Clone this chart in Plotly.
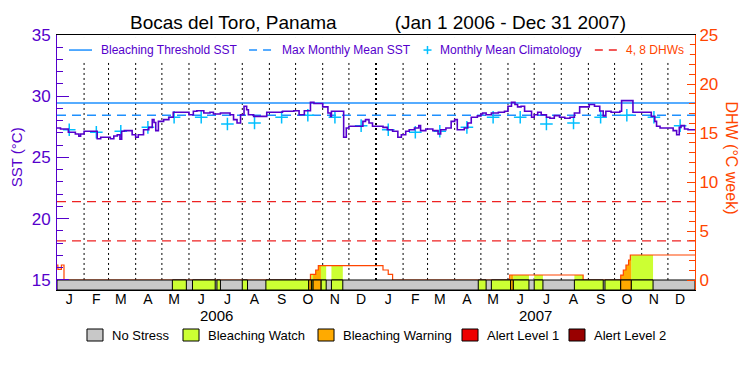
import plotly.graph_objects as go
import pandas as pd

# ---------------- data ----------------
title_text = "Bocas del Toro, Panama" + "\u00a0" * 11 + "(Jan 1 2006 - Dec 31 2007)"
period_start = "2006-01-01"
period_end = "2008-01-01"

sst_dates = [
    "2006-01-01", "2006-01-05", "2006-01-14", "2006-01-22", "2006-01-26", "2006-01-28",
    "2006-02-01", "2006-02-16", "2006-02-20", "2006-03-03", "2006-03-07", "2006-03-11",
    "2006-03-14", "2006-03-16", "2006-03-19", "2006-03-28", "2006-04-01", "2006-04-04",
    "2006-04-10", "2006-04-16", "2006-04-20", "2006-04-22", "2006-04-24", "2006-04-27",
    "2006-05-03", "2006-05-09", "2006-05-14", "2006-06-01", "2006-06-06", "2006-06-10",
    "2006-06-18", "2006-06-25", "2006-06-29", "2006-07-07", "2006-07-18", "2006-07-22",
    "2006-07-26", "2006-07-30", "2006-08-03", "2006-08-06", "2006-08-08", "2006-08-14",
    "2006-08-29", "2006-09-16", "2006-09-29", "2006-10-05", "2006-10-11", "2006-10-18",
    "2006-10-22", "2006-11-01", "2006-11-07", "2006-11-10", "2006-11-11", "2006-11-25",
    "2006-11-28", "2006-12-01", "2006-12-17", "2006-12-20", "2006-12-24", "2006-12-28",
    "2007-01-09", "2007-01-14", "2007-01-20", "2007-01-26", "2007-01-30", "2007-02-04",
    "2007-02-08", "2007-02-14", "2007-02-19", "2007-02-21", "2007-02-27", "2007-03-07",
    "2007-03-13", "2007-03-16", "2007-03-22", "2007-03-28", "2007-04-01", "2007-04-04",
    "2007-04-12", "2007-04-16", "2007-04-20", "2007-04-27", "2007-05-01", "2007-05-03",
    "2007-05-07", "2007-05-13", "2007-05-21", "2007-05-28", "2007-06-01", "2007-06-05",
    "2007-06-09", "2007-06-12", "2007-06-16", "2007-06-20", "2007-06-28", "2007-07-01",
    "2007-07-05", "2007-07-09", "2007-07-15", "2007-07-19", "2007-07-24", "2007-07-30",
    "2007-08-05", "2007-08-11", "2007-08-16", "2007-08-22", "2007-09-02", "2007-09-08",
    "2007-09-14", "2007-09-18", "2007-09-21", "2007-09-27", "2007-10-07", "2007-10-09",
    "2007-10-22", "2007-11-12", "2007-11-16", "2007-11-18", "2007-11-22", "2007-12-07",
    "2007-12-11", "2007-12-14", "2007-12-16", "2007-12-20", "2007-12-24", "2008-01-01",
]
sst_values = [
    27.41, 27.33, 27.06, 26.92, 26.73, 26.92,
    27.14, 26.53, 26.65, 26.53, 26.75, 26.86,
    26.50, 27.14, 27.19, 26.86, 26.65, 26.86,
    27.27, 27.46, 28.09, 27.85, 27.19, 27.95,
    28.09, 28.28, 28.69, 28.49, 28.77, 28.82,
    28.63, 28.69, 28.55, 28.63, 28.49, 28.09,
    27.82, 28.49, 29.18, 28.90, 28.49, 28.36,
    28.69, 28.77, 28.82, 28.49, 28.82, 29.50,
    29.41, 29.13, 28.63, 28.36, 28.77, 26.65,
    27.41, 27.55, 27.95, 28.09, 27.82, 27.55,
    27.46, 27.27, 27.14, 26.65, 26.86, 27.14,
    27.27, 27.41, 27.60, 27.19, 27.33, 27.19,
    26.92, 27.27, 27.41, 27.95, 28.09, 27.27,
    27.41, 27.82, 28.28, 28.40, 28.55, 28.63,
    28.49, 28.63, 28.69, 28.77, 29.18, 29.50,
    29.32, 29.13, 29.18, 28.77, 28.28, 28.49,
    28.69, 28.49, 28.28, 28.20, 28.42, 28.28,
    28.20, 28.28, 28.63, 29.13, 29.32, 29.18,
    28.80, 28.40, 28.77, 28.69, 28.77, 29.64,
    28.69, 28.36, 27.95, 27.55, 27.41, 27.19,
    26.86, 27.46, 27.60, 27.33, 27.27, 27.27,
]

clim_day = 15
clim_values = [27.27, 27.06, 27.14, 27.46, 28.28, 28.28, 27.73, 27.82, 28.28, 28.45, 28.28, 27.60]
years = [2006, 2007]
mmm_sst = 28.45
threshold_sst = 29.45
dhw_ref_levels = [4, 8]

dhw_dates = ["2006-01-01", "2006-01-02", "2006-01-06", "2006-01-09", "2006-10-18", "2006-10-24",
             "2006-10-27", "2007-01-09", "2007-01-15", "2007-01-20", "2007-06-03", "2007-08-26",
             "2007-10-08", "2007-10-11", "2007-10-14", "2007-10-17", "2007-10-19", "2008-01-01"]
dhw_values = [1.53, 1.09, 1.53, 0.0, 0.58, 1.02,
              1.46, 1.02, 0.58, 0.0, 0.51, 0.0,
              0.50, 1.02, 1.53, 2.04, 2.55, 2.55]

# stress level: 1 = Bleaching Watch, 2 = Bleaching Warning (rest = No Stress)
stress_start = ["2006-05-13", "2006-06-05", "2006-07-03", "2006-08-01", "2006-08-28", "2006-10-16",
                "2006-10-19", "2006-10-21", "2006-10-30", "2006-11-11",
                "2007-04-28", "2007-05-13", "2007-06-04", "2007-06-07", "2007-07-01", "2007-08-16",
                "2007-09-20", "2007-10-08", "2007-10-20"]
stress_end = ["2006-05-29", "2006-07-01", "2006-07-07", "2006-08-07", "2006-10-16", "2006-10-19",
              "2006-10-21", "2006-10-30", "2006-11-05", "2006-11-24",
              "2007-05-07", "2007-06-04", "2007-06-07", "2007-06-25", "2007-07-11", "2007-09-18",
              "2007-10-08", "2007-10-20", "2007-11-14"]
stress_level = [1, 1, 1, 1, 1, 2,
                1, 2, 1, 1,
                1, 1, 2, 1, 1, 1,
                1, 2, 1]

stress_names = ["No Stress", "Bleaching Watch", "Bleaching Warning", "Alert Level 1", "Alert Level 2"]
stress_colors = ["#c8c8c8", "#ccff33", "#ffaa00", "#ee0000", "#990000"]
month_letters = ["J", "F", "M", "A", "M", "J", "J", "A", "S", "O", "N", "D"]
top_legend_labels = ["Bleaching Threshold SST", "Max Monthly Mean SST", "Monthly Mean Climatology", "4, 8 DHWs"]

# ---------------- styles ----------------
PURPLE = "#5500cc"
ORANGE = "#ff4500"
BLUE = "#1e90ff"
CYAN = "#00bfff"
RED = "#ee2222"
FONT = "Liberation Sans, Arial, sans-serif"
SST_RANGE = [14.18, 35]
DHW_RANGE = [-1.02, 25]
BAR_BOTTOM = DHW_RANGE[0]

fig = go.Figure()

# month grid (dotted) and year boundary
month_starts = pd.date_range(period_start, period_end, freq="MS")[1:-1]
year_starts = [pd.Timestamp(f"{y}-01-01") for y in years[1:]]
gx, gy = [], []
for m in month_starts:
    if m in year_starts:
        continue
    gx += [m, m, None]
    gy += [15, 35, None]
fig.add_trace(go.Scatter(x=gx, y=gy, mode="lines", showlegend=False, hoverinfo="skip",
                         line=dict(color="black", width=1, dash="2px,3px")))
yx, yy = [], []
for m in year_starts:
    yx += [m, m, None]
    yy += [15, 35, None]
fig.add_trace(go.Scatter(x=yx, y=yy, mode="lines", showlegend=False, hoverinfo="skip",
                         line=dict(color="black", width=2, dash="2px,3px")))

# threshold / MMM / climatology
fig.add_trace(go.Scatter(x=[period_start, period_end], y=[threshold_sst] * 2, mode="lines",
                         showlegend=False, line=dict(color=BLUE, width=1.5)))
fig.add_trace(go.Scatter(x=[period_start, period_end], y=[mmm_sst] * 2, mode="lines",
                         showlegend=False, line=dict(color=BLUE, width=1.5, dash="9px,6px")))
clim_x, clim_y = [], []
for y in years:
    for i, v in enumerate(clim_values):
        clim_x.append(pd.Timestamp(year=y, month=i + 1, day=clim_day))
        clim_y.append(v)
fig.add_trace(go.Scatter(x=clim_x, y=clim_y, mode="markers", showlegend=False,
                         marker=dict(symbol="cross-thin", size=9, color=CYAN,
                                     line=dict(width=1.5, color=CYAN))))

# SST
fig.add_trace(go.Scatter(x=sst_dates, y=sst_values, mode="lines", showlegend=False,
                         line=dict(color=PURPLE, width=1.6, shape="hv")))

# DHW reference lines
rx, ry = [], []
for lv in dhw_ref_levels:
    rx += [period_start, period_end, None]
    ry += [lv, lv, None]
fig.add_trace(go.Scatter(x=rx, y=ry, mode="lines", yaxis="y2", showlegend=False,
                         line=dict(color=RED, width=1.3, dash="9px,6px")))

# stress-coloured area under DHW
dhw_ts = pd.to_datetime(dhw_dates)


def dhw_at(t):
    v = 0.0
    for d, val in zip(dhw_ts, dhw_values):
        if d <= t:
            v = val
        else:
            break
    return v


def fill_poly(level):
    xs, ys = [], []
    for s, e, lv in zip(stress_start, stress_end, stress_level):
        if lv != level:
            continue
        s, e = pd.Timestamp(s), pd.Timestamp(e)
        v = dhw_at(s)
        px, py = [s, s], [0, v]
        for d, val in zip(dhw_ts, dhw_values):
            if s < d < e:
                px += [d, d]
                py += [v, val]
                v = val
        px += [e, e]
        py += [v, 0]
        if max(py) > 0:
            xs += px + [None]
            ys += py + [None]
    return xs, ys


for lvl in (1, 2):
    fx, fy = fill_poly(lvl)
    fig.add_trace(go.Scatter(x=fx, y=fy, yaxis="y2", mode="none", fill="toself",
                             fillcolor=stress_colors[lvl], showlegend=False, hoverinfo="skip"))

# DHW line
fig.add_trace(go.Scatter(x=dhw_dates, y=dhw_values, yaxis="y2", mode="lines", showlegend=False,
                         line=dict(color=ORANGE, width=1.2, shape="hv")))

# stress bar
fig.add_trace(go.Scatter(x=[period_start, period_start, period_end, period_end, period_start],
                         y=[BAR_BOTTOM, 0, 0, BAR_BOTTOM, BAR_BOTTOM], yaxis="y2", mode="lines",
                         fill="toself", fillcolor=stress_colors[0], showlegend=False, hoverinfo="skip",
                         line=dict(color="black", width=1)))
for lvl in (1, 2):
    bx, by = [], []
    for s, e, lv in zip(stress_start, stress_end, stress_level):
        if lv == lvl:
            bx += [s, s, e, e, s, None]
            by += [BAR_BOTTOM, 0, 0, BAR_BOTTOM, BAR_BOTTOM, None]
    fig.add_trace(go.Scatter(x=bx, y=by, yaxis="y2", mode="lines", fill="toself",
                             fillcolor=stress_colors[lvl], showlegend=False, hoverinfo="skip",
                             line=dict(color="black", width=1)))

# ---------------- layout ----------------
# the page adds an 8px body margin, so the figure is 8px smaller than the window
FIG_W, FIG_H = 742, 367
mid_months = [pd.Timestamp(year=y, month=i + 1, day=15) for y in years for i in range(12)]

annotations = [
    dict(text="SST (°C)", x=-0.063, y=0.52, xref="paper", yref="paper", textangle=-90,
         xanchor="center", yanchor="middle",
         showarrow=False, font=dict(size=15, color=PURPLE)),
    dict(text="DHW (°C week)", x=1.058, y=0.52, xref="paper", yref="paper", textangle=90,
         xanchor="center", yanchor="middle",
         showarrow=False, font=dict(size=16, color=ORANGE)),
]
for y in years:
    annotations.append(dict(text=str(y), x=pd.Timestamp(year=y, month=7, day=2), xref="x",
                            y=-0.1, yref="paper", showarrow=False, yanchor="middle",
                            xanchor="center", font=dict(size=15, color="black")))

# top legend (inside plot): key marks + texts
LEG_Y = 0.941
leg_text_x = [0.0658, 0.3495, 0.597, 0.8887]
leg_text_col = [PURPLE, PURPLE, PURPLE, ORANGE]
for lab, lx, lc in zip(top_legend_labels, leg_text_x, leg_text_col):
    annotations.append(dict(text=lab, x=lx, y=LEG_Y, xref="paper", yref="paper", xanchor="left",
                            yanchor="middle", showarrow=False, font=dict(size=12, color=lc)))

shapes = [
    dict(type="rect", xref="paper", yref="paper", x0=0.0094, x1=0.992, y0=0.898, y1=0.988,
         fillcolor="white", line=dict(width=0), layer="above"),
    dict(type="line", xref="paper", yref="paper", x0=0.0188, x1=0.0549, y0=LEG_Y, y1=LEG_Y,
         line=dict(color=BLUE, width=1.5), layer="above"),
    dict(type="line", xref="paper", yref="paper", x0=0.301, x1=0.3386, y0=LEG_Y, y1=LEG_Y,
         line=dict(color=BLUE, width=1.5, dash="8px,6px"), layer="above"),
    dict(type="line", xref="paper", yref="paper", x0=0.5745, x1=0.5870, y0=LEG_Y, y1=LEG_Y,
         line=dict(color=CYAN, width=1.5), layer="above"),
    dict(type="line", xref="paper", yref="paper", x0=0.5807, x1=0.5807, y0=LEG_Y - 0.016,
         y1=LEG_Y + 0.016, line=dict(color=CYAN, width=1.5), layer="above"),
    dict(type="line", xref="paper", yref="paper", x0=0.843, x1=0.878, y0=LEG_Y, y1=LEG_Y,
         line=dict(color=RED, width=1.5, dash="8px,6px"), layer="above"),
]

# bottom stress legend: boxes + texts
SL_BOX_X = [0.0470, 0.1975, 0.4091, 0.6348, 0.8025]
SL_BOX_W = 0.0251
SL_Y0, SL_Y1 = -0.200, -0.153
for name, col, bx0 in zip(stress_names, stress_colors, SL_BOX_X):
    shapes.append(dict(type="rect", xref="paper", yref="paper", x0=bx0, x1=bx0 + SL_BOX_W,
                       y0=SL_Y0, y1=SL_Y1, fillcolor=col, line=dict(color="black", width=1),
                       layer="above"))
    annotations.append(dict(text=name, x=bx0 + SL_BOX_W + 0.0110, y=(SL_Y0 + SL_Y1) / 2,
                            xref="paper", yref="paper", xanchor="left", yanchor="middle",
                            showarrow=False, font=dict(size=13, color="black")))

fig.update_layout(
    width=FIG_W, height=FIG_H,
    margin=dict(l=49, r=55, t=27, b=85),
    paper_bgcolor="white", plot_bgcolor="white",
    font=dict(family=FONT, color="black"),
    title=dict(text=title_text, x=370 / FIG_W, xanchor="center", y=1 - 14 / FIG_H, yanchor="middle",
               font=dict(size=19, color="black", family=FONT)),
    showlegend=False,
    xaxis=dict(type="date", range=[period_start, period_end], showline=True, linecolor="black",
               linewidth=1, mirror=True, ticks="", showgrid=False, zeroline=False,
               tickmode="array", tickvals=mid_months, ticktext=month_letters * len(years),
               tickfont=dict(size=14, color="black"), tickangle=0, ticklabelstandoff=-4),
    yaxis=dict(range=SST_RANGE, showline=True, linecolor=PURPLE, linewidth=1, ticks="inside",
               ticklen=12, tickcolor=PURPLE, tickmode="array", tickvals=[15, 20, 25, 30, 35],
               tickfont=dict(size=17, color=PURPLE), showgrid=False, zeroline=False,
               ticklabelstandoff=2,
               minor=dict(ticks="inside", ticklen=6, tickcolor=PURPLE, tickmode="array",
                          tickvals=[v for v in range(16, 35) if v % 5])),
    yaxis2=dict(range=DHW_RANGE, overlaying="y", side="right", showline=True, linecolor=ORANGE,
                linewidth=1, ticks="inside", ticklen=8, tickcolor=ORANGE, tickmode="array",
                tickvals=[0, 5, 10, 15, 20, 25], tickfont=dict(size=17, color=ORANGE),
                showgrid=False, zeroline=False, ticklabelstandoff=0,
                minor=dict(ticks="inside", ticklen=6, tickcolor=ORANGE, tickmode="array",
                           tickvals=[v for v in range(1, 25) if v % 5])),
    annotations=annotations,
    shapes=shapes,
)

fig.write_html("out.html")
